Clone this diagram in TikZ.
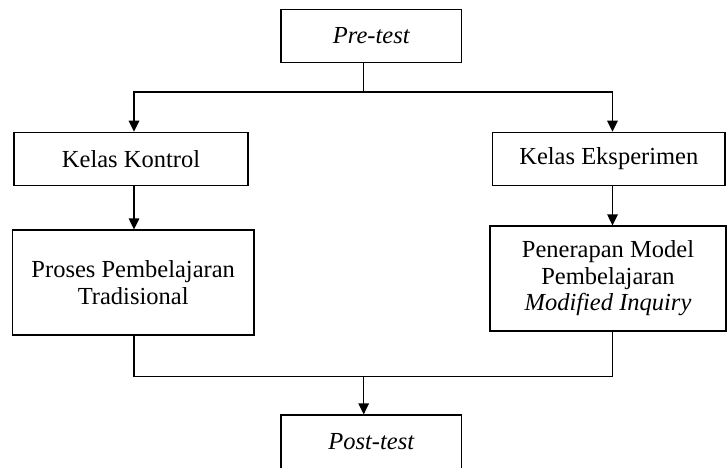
\documentclass[tikz,border=0pt]{standalone}
\usepackage{fontspec}
\setmainfont{Liberation Serif}
\usetikzlibrary{arrows.meta}

\tikzset{
	flowbox/.style={draw,line width=1.2pt,align=center,inner sep=0pt,
		font=\fontsize{24.5}{26.5}\selectfont},
	flowline/.style={line width=1.2pt},
	flowarrow/.style={line width=1.2pt,-{Triangle[length=11pt,width=10.5pt]}}
}

\begin{document}
\begin{tikzpicture}[x=1pt,y=1pt,yscale=-1,xscale=1]
	\useasboundingbox (0,0) rectangle (727,467);
	\clip (0,0) rectangle (727,467);
	
	%Shape: Rectangle [pre-test]
	\node [flowbox,minimum width=180.7,minimum height=53.4] (pretest) at (371.3,36) {\itshape Pre-test};
	%Shape: Rectangle [kelas kontrol]
	\node [flowbox,minimum width=234,minimum height=53.4] (kontrol) at (131,159) {Kelas Kontrol};
	%Shape: Rectangle [kelas eksperimen]
	\node [flowbox,minimum width=232.3,minimum height=53.4] (eksperimen) at (608.8,159) {Kelas Eksperimen};
	%Shape: Rectangle [proses]
	\node [flowbox,minimum width=241.5,minimum height=105] (proses) at (133.2,282.5) {Proses Pembelajaran\\Tradisional};
	%Shape: Rectangle [penerapan]
	\node [flowbox,minimum width=236,minimum height=105] (penerapan) at (608,278.5) {Penerapan Model\\Pembelajaran\\\itshape Modified Inquiry};
	%Shape: Rectangle [post-test]
	\node [flowbox,minimum width=180.7,minimum height=60] (posttest) at (371.3,445) {\raisebox{8pt}{\itshape Post-test}};
	
	% branch points
	\coordinate (split) at (363.7,92);
	\coordinate (join) at (363.7,376.7);
	\coordinate (lcol) at (134,92);
	\coordinate (rcol) at (612.5,92);
	
	%Straight Lines [pre-test to both classes]
	\draw [flowline] (split |- pretest.south) -- (split);
	\draw [flowarrow] (split) -- (lcol) -- (lcol |- kontrol.north);
	\draw [flowarrow] (split) -- (rcol) -- (rcol |- eksperimen.north);
	%Straight Lines [classes to treatments]
	\draw [flowarrow] (lcol |- kontrol.south) -- (lcol |- proses.north);
	\draw [flowarrow] (rcol |- eksperimen.south) -- (rcol |- penerapan.north);
	%Straight Lines [treatments to post-test]
	\draw [flowline] (lcol |- proses.south) -- (lcol |- join) -- (rcol |- join) -- (rcol |- penerapan.south);
	\draw [flowarrow] (join) -- (join |- posttest.north);
	
\end{tikzpicture}
\end{document}
